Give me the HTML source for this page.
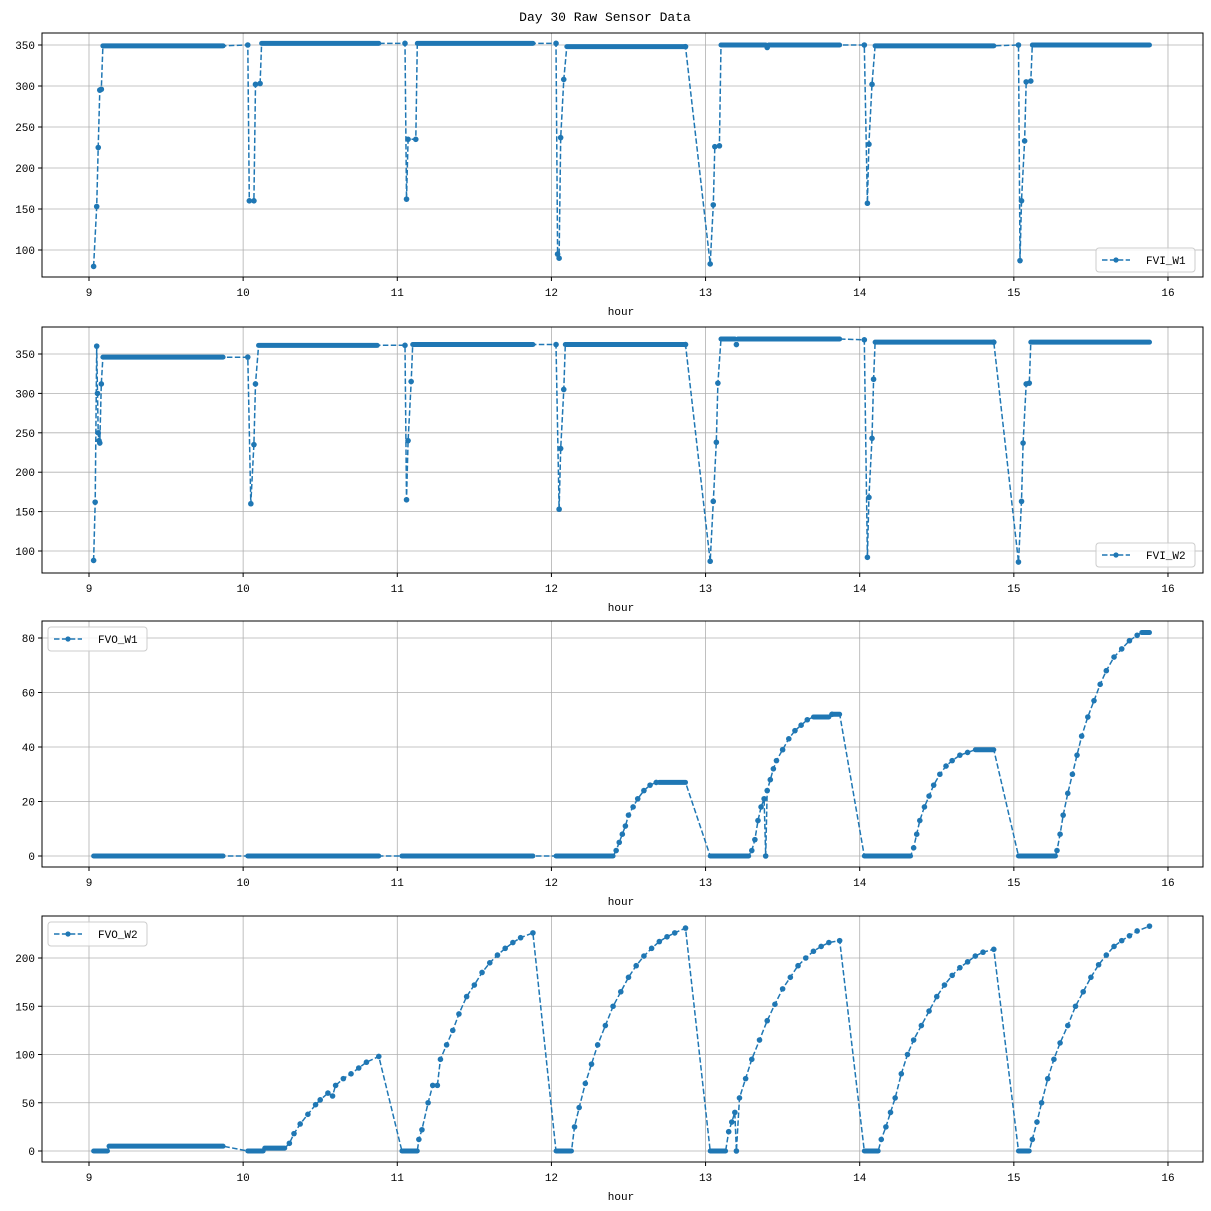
<!DOCTYPE html>
<html><head><meta charset="utf-8">
<style>
body{margin:0;background:#fff;}
svg{display:block;font-family:"Liberation Mono","DejaVu Sans Mono",monospace;}
</style></head>
<body>
<svg id="fig" width="1211" height="1211" viewBox="0 0 1211 1211">
<rect width="1211" height="1211" fill="#fff"/>
<text x="605" y="21" text-anchor="middle" font-size="13">Day 30 Raw Sensor Data</text>
</svg>
<script>
// ---- data: isolated points [hour, value] ----
const fviW1Points=[[9.03,80],[9.05,153],[9.06,225],[9.07,295],[9.08,296],[10.03,350],[10.04,160],[10.07,160],[10.08,302],[10.11,303],[11.05,352],[11.06,162],[11.07,235],[11.12,235],[12.03,352],[12.04,95],[12.05,90],[12.06,237],[12.08,308],[12.87,348],[13.03,83],[13.05,155],[13.06,226],[13.09,227],[13.4,347],[14.03,350],[14.05,157],[14.06,229],[14.08,302],[15.03,350],[15.04,87],[15.05,160],[15.07,233],[15.08,305],[15.11,306]];
const fviW1Runs=[[9.09,9.87,349],[10.12,10.88,352],[11.13,11.88,352],[12.1,12.87,348],[13.1,13.39,350],[13.41,13.87,350],[14.1,14.87,349],[15.12,15.88,350]];
const fviW2Points=[[9.03,88],[9.04,162],[9.05,360],[9.055,300],[9.06,250],[9.065,240],[9.07,237],[9.08,312],[10.03,346],[10.05,160],[10.07,235],[10.08,312],[11.05,361],[11.06,165],[11.07,240],[11.09,315],[12.03,362],[12.05,153],[12.06,230],[12.08,305],[12.87,362],[13.03,87],[13.05,163],[13.07,238],[13.08,313],[13.2,362],[14.03,368],[14.05,92],[14.06,168],[14.08,243],[14.09,318],[14.87,365],[15.03,86],[15.05,163],[15.06,237],[15.08,312],[15.1,313]];
const fviW2Runs=[[9.09,9.87,346],[10.1,10.87,361],[11.1,11.88,362],[12.09,12.87,362],[13.1,13.19,369],[13.21,13.87,369],[14.1,14.87,365],[15.11,15.88,365]];
const fvoW1Points=[[12.42,2],[12.44,5],[12.46,8],[12.48,11],[12.5,15],[12.53,18],[12.56,21],[12.6,24],[12.64,26],[12.68,27],[13.3,2],[13.32,6],[13.34,13],[13.36,18],[13.38,21],[13.39,0],[13.4,24],[13.42,28],[13.44,32],[13.46,35],[13.5,39],[13.54,43],[13.58,46],[13.62,48],[13.66,50],[13.82,52],[14.35,3],[14.37,8],[14.39,13],[14.42,18],[14.45,22],[14.48,26],[14.52,30],[14.56,33],[14.6,35],[14.65,37],[14.7,38],[15.28,2],[15.3,8],[15.32,15],[15.35,23],[15.38,30],[15.41,37],[15.44,44],[15.48,51],[15.52,57],[15.56,63],[15.6,68],[15.65,73],[15.7,76],[15.75,79],[15.8,81]];
const fvoW1Runs=[[9.03,9.87,0],[10.03,10.88,0],[11.03,11.88,0],[12.03,12.4,0],[12.7,12.87,27],[13.03,13.28,0],[13.7,13.8,51],[13.82,13.87,52],[14.03,14.33,0],[14.75,14.87,39],[15.03,15.27,0],[15.83,15.88,82]];
const fvoW2Points=[[10.3,8],[10.33,18],[10.37,28],[10.42,38],[10.47,48],[10.5,53],[10.55,60],[10.58,57],[10.6,68],[10.65,75],[10.7,80],[10.75,86],[10.8,92],[10.88,98],[11.14,12],[11.16,22],[11.2,50],[11.23,68],[11.26,68],[11.28,95],[11.32,110],[11.36,125],[11.4,142],[11.45,160],[11.5,172],[11.55,185],[11.6,195],[11.65,203],[11.7,210],[11.75,216],[11.8,221],[11.88,226],[12.15,25],[12.18,45],[12.22,70],[12.26,90],[12.3,110],[12.35,130],[12.4,150],[12.45,165],[12.5,180],[12.55,192],[12.6,202],[12.65,210],[12.7,217],[12.75,222],[12.8,226],[12.87,231],[13.15,20],[13.17,30],[13.19,40],[13.2,0],[13.22,55],[13.26,75],[13.3,95],[13.35,115],[13.4,135],[13.45,152],[13.5,168],[13.55,180],[13.6,192],[13.65,200],[13.7,207],[13.75,212],[13.8,216],[13.87,218],[14.14,12],[14.17,25],[14.2,40],[14.23,55],[14.27,80],[14.31,100],[14.35,115],[14.4,130],[14.45,145],[14.5,160],[14.55,172],[14.6,182],[14.65,190],[14.7,196],[14.75,202],[14.8,206],[14.87,209],[15.12,12],[15.15,30],[15.18,50],[15.22,75],[15.26,95],[15.3,112],[15.35,130],[15.4,150],[15.45,165],[15.5,180],[15.55,193],[15.6,203],[15.65,212],[15.7,218],[15.75,223],[15.8,228],[15.88,233]];
const fvoW2Runs=[[9.03,9.12,0],[9.13,9.87,5],[10.03,10.13,0],[10.14,10.27,3],[11.03,11.13,0],[12.03,12.13,0],[13.03,13.13,0],[14.03,14.12,0],[15.03,15.1,0]];
const xTicks=[9,10,11,12,13,14,15,16];
const yTicks1=[100,150,200,250,300,350];
const yTicks2=[100,150,200,250,300,350];
const yTicks3=[0,20,40,60,80];
const yTicks4=[0,50,100,150,200];

const NS='http://www.w3.org/2000/svg';
const svg=document.getElementById('fig');
const C='#1f77b4';
function mk(tag,attrs,parent){const e=document.createElementNS(NS,tag);for(const k in attrs)e.setAttribute(k,attrs[k]);(parent||svg).appendChild(e);return e;}
const L=42,R=1203;
const xs=h=>89+(h-9)*154.14;

function panel(cfg){
  const {top,bot,v0,p0,v1,p1,ticks,points,runs,label,legendPos}=cfg;
  const ys=v=>p0+(v-v0)*(p1-p0)/(v1-v0);
  const g=mk('g',{});
  
  
  xTicks.forEach(t=>{const l=mk('line',{x1:xs(t),x2:xs(t),y1:top,y2:bot,stroke:'#b0b0b0','stroke-width':0.8},g);
    
    mk('line',{x1:xs(t),x2:xs(t),y1:bot,y2:bot+4,stroke:'#000'},g);
    const tx=mk('text',{x:xs(t),y:bot+19,'text-anchor':'middle','font-size':11},g);tx.textContent=t;
    });
  ticks.forEach(t=>{const y=ys(t);const l=mk('line',{x1:L,x2:R,y1:y,y2:y,stroke:'#b0b0b0','stroke-width':0.8},g);
    
    mk('line',{x1:L-4,x2:L,y1:y,y2:y,stroke:'#000'},g);
    const tx=mk('text',{x:L-7,y:y+4,'text-anchor':'end','font-size':11},g);tx.textContent=t;
    });
  const seq=[];points.forEach(p=>seq.push(p));runs.forEach(r=>{seq.push([r[0],r[2]]);seq.push([r[1],r[2]]);});
  seq.sort((a,b)=>a[0]-b[0]);
  const d=seq.map((p,i)=>(i?'L':'M')+xs(p[0]).toFixed(1)+','+ys(p[1]).toFixed(1)).join('');
  const line=mk('path',{d:d,fill:'none',stroke:C,'stroke-width':1.5,'stroke-dasharray':'5.5,2.4'},g);
  
  runs.forEach(r=>{const l=mk('line',{x1:xs(r[0]),x2:xs(r[1]),y1:ys(r[2]),y2:ys(r[2]),stroke:C,'stroke-width':5,'stroke-linecap':'round'},g);
    });
  points.forEach(p=>{const c=mk('circle',{cx:xs(p[0]),cy:ys(p[1]),r:2.8,fill:C},g);
    });
  const fr=mk('rect',{x:L,y:top,width:R-L,height:bot-top,fill:'none',stroke:'#000','stroke-width':1},g);
  
  const xl=mk('text',{x:621,y:bot+38,'text-anchor':'middle','font-size':11},g);xl.textContent='hour';
  
  const [lx,ly]=legendPos;
  const lg=mk('g',{},g);
  mk('rect',{x:lx,y:ly,width:99,height:24,rx:3,fill:'#fff','fill-opacity':0.8,stroke:'#ccc'},lg);
  mk('line',{x1:lx+6,x2:lx+34,y1:ly+12,y2:ly+12,stroke:C,'stroke-width':1.5,'stroke-dasharray':'5.5,2.4'},lg);
  mk('circle',{cx:lx+20,cy:ly+12,r:2.6,fill:C},lg);
  const lt=mk('text',{x:lx+50,y:ly+16,'font-size':11},lg);lt.textContent=label;
  
}
panel({top:33,bot:277,v0:350,p0:45,v1:100,p1:250,ticks:yTicks1,points:fviW1Points,runs:fviW1Runs,label:'FVI_W1',legendPos:[1096,248]});
panel({top:327,bot:573,v0:350,p0:354,v1:100,p1:551,ticks:yTicks2,points:fviW2Points,runs:fviW2Runs,label:'FVI_W2',legendPos:[1096,543]});
panel({top:621,bot:867,v0:80,p0:638,v1:0,p1:856,ticks:yTicks3,points:fvoW1Points,runs:fvoW1Runs,label:'FVO_W1',legendPos:[48,627]});
panel({top:916,bot:1162,v0:200,p0:958,v1:0,p1:1151,ticks:yTicks4,points:fvoW2Points,runs:fvoW2Runs,label:'FVO_W2',legendPos:[48,922]});
</script>
</body></html>
